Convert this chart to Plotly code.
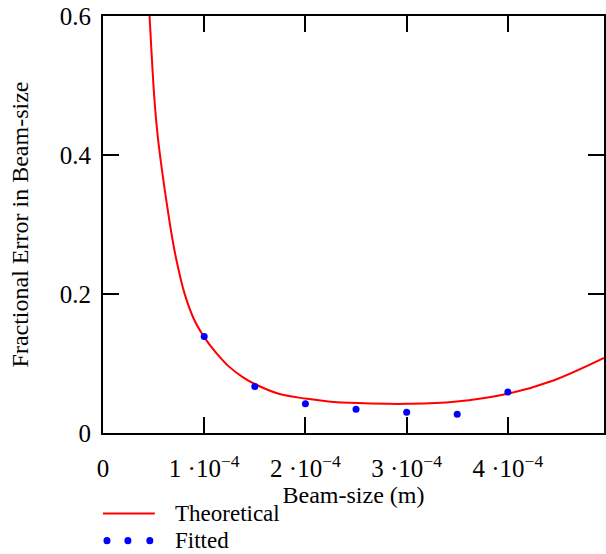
import plotly.graph_objects as go

# Theoretical curve (x in metres, y fractional error)
theory_x = [0.44e-4, 0.46e-4, 0.508e-4, 0.540e-4, 0.583e-4, 0.623e-4, 0.672e-4, 0.721e-4,
            0.803e-4, 0.901e-4, 1.00e-4, 1.114e-4, 1.245e-4, 1.38e-4, 1.50e-4, 1.736e-4,
            2.00e-4, 2.227e-4, 2.52e-4, 2.80e-4, 3.00e-4, 3.47e-4, 4.00e-4, 4.45e-4, 4.95e-4]
theory_y = [0.660, 0.600, 0.480, 0.428, 0.378, 0.337, 0.291, 0.252,
            0.202, 0.163, 0.138, 0.116, 0.0955, 0.0805, 0.0705, 0.0565,
            0.0495, 0.0455, 0.0430, 0.0420, 0.0420, 0.0450, 0.0565, 0.0756, 0.108]

# Fitted points
fit_x = [1.0e-4, 1.5e-4, 2.0e-4, 2.5e-4, 3.0e-4, 3.5e-4, 4.0e-4]
fit_y = [0.139, 0.067, 0.042, 0.034, 0.030, 0.027, 0.059]

x_tickvals = [0, 1e-4, 2e-4, 3e-4, 4e-4]
x_ticktext = ["0", "1 ·10<sup>−4</sup>", "2 ·10<sup>−4</sup>", "3 ·10<sup>−4</sup>", "4 ·10<sup>−4</sup>"]
y_tickvals = [0, 0.2, 0.4, 0.6]
y_ticktext = ["0", "0.2", "0.4", "0.6"]

FONT = "Liberation Serif"

fig = go.Figure()
fig.add_trace(go.Scatter(x=theory_x, y=theory_y, mode="lines", name="Theoretical",
                         line=dict(color="#ff0000", width=2, shape="spline", smoothing=1.0)))
fig.add_trace(go.Scatter(x=fit_x, y=fit_y, mode="markers", name="Fitted",
                         marker=dict(color="#0000ff", size=7)))

axis_common = dict(showline=True, linecolor="black", linewidth=2, mirror="ticks",
                   ticks="inside", ticklen=16, tickwidth=2, tickcolor="black",
                   showgrid=False, zeroline=False,
                   tickfont=dict(family=FONT, size=25, color="black"))

fig.update_xaxes(range=[0, 4.95e-4], tickvals=x_tickvals, ticktext=x_ticktext,
                 ticklabelstandoff=12,
                 title=dict(text="Beam-size (m)", font=dict(family=FONT, size=24, color="black"),
                            standoff=0),
                 **axis_common)
fig.update_yaxes(range=[0, 0.6], tickvals=y_tickvals, ticktext=y_ticktext,
                 ticklabelstandoff=5,
                 title=dict(text="Fractional Error in Beam-size",
                            font=dict(family=FONT, size=24, color="black"), standoff=24),
                 **axis_common)

# manual legend (paper coordinates)
W0, W = 103, 503
H0, H = 432.5, 416.5
def px(x):
    return (x - W0) / W
def py(y):
    return (H0 - y) / H

shapes = [dict(type="line", xref="paper", yref="paper", x0=px(103), x1=px(155),
               y0=py(513), y1=py(513), line=dict(color="#ff0000", width=2))]
for cx in (107, 128, 150):
    shapes.append(dict(type="circle", xref="paper", yref="paper",
                       x0=px(cx - 3.5), x1=px(cx + 3.5), y0=py(540 - 3.5), y1=py(540 + 3.5),
                       fillcolor="#0000ff", line=dict(width=0)))
annotations = [
    dict(text="Theoretical", xref="paper", yref="paper", x=px(174), y=py(513),
         xanchor="left", yanchor="middle", showarrow=False, borderpad=0,
         font=dict(family=FONT, size=23, color="black")),
    dict(text="Fitted", xref="paper", yref="paper", x=px(174), y=py(540),
         xanchor="left", yanchor="middle", showarrow=False, borderpad=0,
         font=dict(family=FONT, size=23, color="black")),
]

fig.update_layout(width=606, height=554, showlegend=False,
                  margin=dict(l=103, r=0, t=16, b=121),
                  paper_bgcolor="white", plot_bgcolor="white",
                  shapes=shapes, annotations=annotations)

fig.write_html("out.html")
